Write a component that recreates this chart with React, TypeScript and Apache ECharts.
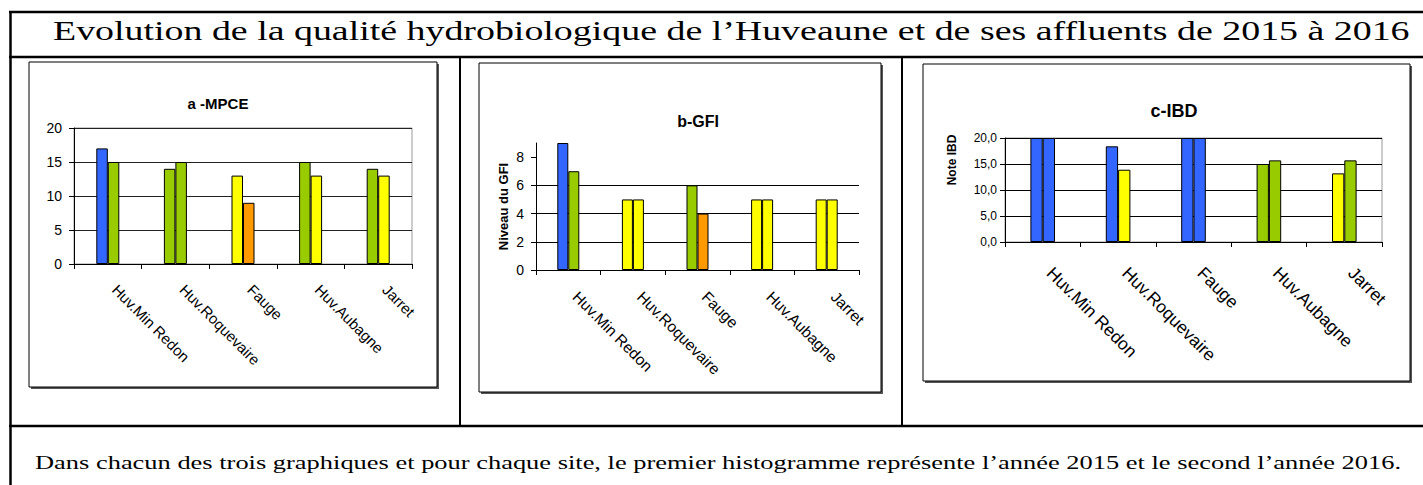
import React, { useEffect, useRef } from 'react';
import * as echarts from 'echarts';

// ---- Data ----
const sites = ['Huv.Min Redon', 'Huv.Roquevaire', 'Fauge', 'Huv.Aubagne', 'Jarret'];

const mpce2015 = [17, 14, 13, 15, 14];
const mpce2016 = [15, 15, 9, 13, 13];
const mpceClass2015 = ['blue', 'green', 'yellow', 'green', 'green'];
const mpceClass2016 = ['green', 'green', 'orange', 'yellow', 'yellow'];

const gfi2015 = [9, 5, 6, 5, 5];
const gfi2016 = [7, 5, 4, 5, 5];
const gfiClass2015 = ['blue', 'yellow', 'green', 'yellow', 'yellow'];
const gfiClass2016 = ['green', 'yellow', 'orange', 'yellow', 'yellow'];

const ibd2015 = [20, 18.4, 20, 15.0, 13.2];
const ibd2016 = [20, 13.9, 20, 15.7, 15.7];
const ibdClass2015 = ['blue', 'blue', 'blue', 'green', 'yellow'];
const ibdClass2016 = ['blue', 'yellow', 'blue', 'green', 'green'];

const gfiTicks = [0, 2, 4, 6, 8];

const classColors: Record<string, string> = {
  blue: '#3366FF',
  green: '#99CC00',
  yellow: '#FFFF00',
  orange: '#FF9900',
};

const mainTitle = 'Evolution de la qualité hydrobiologique de l’Huveaune et de ses affluents de 2015 à 2016';
const footnote = 'Dans chacun des trois graphiques et pour chaque site, le premier histogramme représente l’année 2015 et le second l’année 2016.';

const SERIF = '"Liberation Serif", "Times New Roman", serif';
const SANS = 'Arial, "Liberation Sans", sans-serif';

function measureWidth(text: string, font: string): number {
  const ctx = document.createElement('canvas').getContext('2d');
  if (!ctx) return 1;
  ctx.font = font;
  return ctx.measureText(text).width || 1;
}

function barSeries(name: string, values: number[], classes: string[], idx: number, barWidth: number) {
  return {
    type: 'bar',
    name,
    xAxisIndex: idx,
    yAxisIndex: idx,
    barWidth,
    barGap: '0%',
    data: values.map((v, i) => ({
      value: v,
      itemStyle: { color: classColors[classes[i]], borderColor: '#000', borderWidth: 1 },
    })),
  };
}

function xAxis(idx: number, fontSize: number, margin: number) {
  return {
    gridIndex: idx,
    type: 'category',
    data: sites,
    axisLine: { show: true, lineStyle: { color: '#000', width: 1 } },
    axisTick: { show: true, length: 5, alignWithLabel: false, lineStyle: { color: '#000' } },
    axisLabel: { interval: 0, rotate: -45, margin, padding: [0, 0, 0, 10], fontSize, color: '#000', fontFamily: SANS },
    splitLine: { show: false },
  };
}

function box(x0: number, y0: number, x1: number, y1: number) {
  return [
    { type: 'rect', z: -20, silent: true, shape: { x: x0 + 2, y: y0 + 2, width: x1 - x0 - 2, height: y1 - y0 - 2 }, style: { fill: '#555' } },
    { type: 'rect', z: -19, silent: true, shape: { x: x0, y: y0, width: x1 - x0 - 2, height: y1 - y0 - 2 }, style: { fill: '#fff', stroke: '#000', lineWidth: 1 } },
  ];
}

function hline(x0: number, x1: number, y: number, w: number) {
  return { type: 'line', z: -5, silent: true, shape: { x1: x0, y1: y, x2: x1, y2: y }, style: { stroke: '#000', lineWidth: w } };
}
function vline(x: number, y0: number, y1: number, w: number) {
  return { type: 'line', z: -5, silent: true, shape: { x1: x, y1: y0, x2: x, y2: y1 }, style: { stroke: '#000', lineWidth: w } };
}

export default function App() {
  const ref = useRef<HTMLDivElement>(null);

  useEffect(() => {
    if (!ref.current) return;
    const chart = echarts.init(ref.current, null, { renderer: 'svg' });

    const titleFont = `27px ${SERIF}`;
    const footFont = `19px ${SERIF}`;
    const titleScale = 1357 / measureWidth(mainTitle, titleFont);
    const footScale = 1367 / measureWidth(footnote, footFont);

    const option: any = {
      animation: false,
      backgroundColor: '#fff',
      title: [
        { text: 'a -MPCE', left: 218, top: 96, textAlign: 'center', padding: 0, textStyle: { fontSize: 15, fontWeight: 'bold', fontFamily: SANS, color: '#000', lineHeight: 15 } },
        { text: 'b-GFI', left: 698, top: 113, textAlign: 'center', padding: 0, textStyle: { fontSize: 16, fontWeight: 'bold', fontFamily: SANS, color: '#000', lineHeight: 16 } },
        { text: 'c-IBD', left: 1174, top: 102, textAlign: 'center', padding: 0, textStyle: { fontSize: 18, fontWeight: 'bold', fontFamily: SANS, color: '#000', lineHeight: 18 } },
      ],
      grid: [
        { left: 74, top: 128, width: 338, height: 136, show: true, borderColor: '#999', borderWidth: 1, backgroundColor: 'transparent' },
        { left: 536, top: 143, width: 323, height: 127 },
        { left: 1005, top: 138, width: 377, height: 104, show: true, borderColor: '#999', borderWidth: 1, backgroundColor: 'transparent' },
      ],
      xAxis: [xAxis(0, 15, 16), xAxis(1, 15.5, 17), xAxis(2, 17.5, 21)],
      yAxis: [
        {
          gridIndex: 0, type: 'value', min: 0, max: 20, interval: 5,
          axisLine: { show: true, lineStyle: { color: '#000' } },
          axisTick: { show: true, length: 5, lineStyle: { color: '#000' } },
          axisLabel: { margin: 12, fontSize: 14, color: '#000', fontFamily: SANS },
          splitLine: { show: true, lineStyle: { color: '#222', width: 1 } },
        },
        {
          gridIndex: 1, type: 'value', min: 0, max: 9, interval: 2,
          name: 'Niveau du GFI', nameLocation: 'middle', nameRotate: 90, nameGap: 26,
          nameTextStyle: { fontSize: 13, fontWeight: 'bold', fontFamily: SANS, color: '#000' },
          axisLine: { show: true, lineStyle: { color: '#000' } },
          axisTick: { show: true, length: 5, customValues: gfiTicks, lineStyle: { color: '#000' } },
          axisLabel: { margin: 12, fontSize: 14, color: '#000', fontFamily: SANS, customValues: gfiTicks },
          splitLine: { show: true, showMaxLine: false, lineStyle: { color: '#000', width: 1 } },
        },
        {
          gridIndex: 2, type: 'value', min: 0, max: 20, interval: 5,
          axisLine: { show: true, lineStyle: { color: '#000' } },
          axisTick: { show: true, length: 5, lineStyle: { color: '#000' } },
          axisLabel: { margin: 8, fontSize: 12, color: '#000', fontFamily: SANS, formatter: (v: number) => v.toFixed(1).replace('.', ',') },
          splitLine: { show: true, lineStyle: { color: '#000', width: 1 } },
        },
      ],
      series: [
        barSeries('2015', mpce2015, mpceClass2015, 0, 11.5),
        barSeries('2016', mpce2016, mpceClass2016, 0, 11.5),
        barSeries('2015', gfi2015, gfiClass2015, 1, 11),
        barSeries('2016', gfi2016, gfiClass2016, 1, 11),
        barSeries('2015', ibd2015, ibdClass2015, 2, 12.3),
        barSeries('2016', ibd2016, ibdClass2016, 2, 12.3),
      ],
      graphic: {
        elements: [
          // table frame
          hline(9, 1423, 12, 2.5),
          hline(9, 1423, 57, 2.5),
          hline(9, 1423, 426, 2.5),
          vline(10.5, 11, 485, 2.5),
          vline(460, 57, 426, 2),
          vline(902, 57, 426, 2),
          // chart boxes
          ...box(29, 62, 439, 389),
          ...box(479, 63, 883, 394),
          ...box(923, 64, 1412, 383),
          // y name chart 3
          {
            type: 'text', x: 952, y: 160, rotation: Math.PI / 2, silent: true,
            style: { text: 'Note IBD', font: `bold 12px ${SANS}`, fill: '#000', textAlign: 'center', textVerticalAlign: 'middle' },
          },
          // main title
          {
            type: 'text', x: 53, y: 31, scaleX: titleScale, silent: true,
            style: { text: mainTitle, font: titleFont, fill: '#000', textAlign: 'left', textVerticalAlign: 'middle' },
          },
          // footnote
          {
            type: 'text', x: 35, y: 462, scaleX: footScale, silent: true,
            style: { text: footnote, font: footFont, fill: '#000', textAlign: 'left', textVerticalAlign: 'middle' },
          },
        ],
      },
    };

    chart.setOption(option);
    return () => chart.dispose();
  }, []);

  return <div ref={ref} style={{ position: 'absolute', left: 0, top: 0, width: 1423, height: 485 }} />;
}
